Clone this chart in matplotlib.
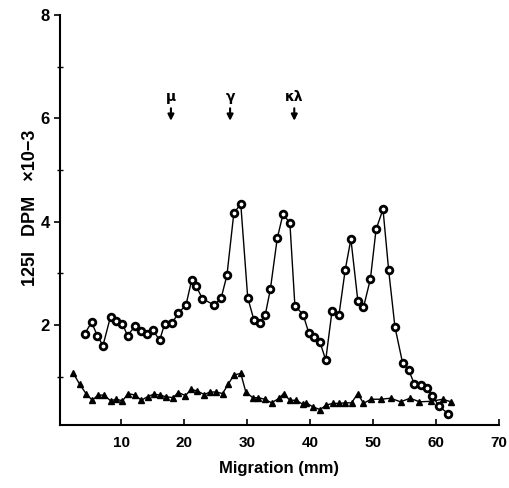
import matplotlib.pyplot as plt
from matplotlib.ticker import MultipleLocator

plt.rcParams['font.family'] = ['Liberation Sans Narrow', 'Liberation Sans', 'DejaVu Sans']
plt.rcParams['font.weight'] = 'bold'

# circles series (migration mm, DPM x 10^-3)
circ_x = [4.2, 5.3, 6.2, 7.1, 8.3, 9.2, 10.2, 11.0, 12.2, 13.2, 14.1, 15.0, 16.1,
          16.9, 18.1, 19.1, 20.3, 21.2, 21.9, 22.9, 24.8, 25.9, 26.8, 27.9, 29.0,
          30.1, 31.1, 32.0, 32.9, 33.7, 34.8, 35.7, 36.8, 37.6, 38.9, 39.8, 40.7,
          41.6, 42.5, 43.5, 44.6, 45.6, 46.5, 47.6, 48.5, 49.6, 50.5, 51.6, 52.5,
          53.5, 54.7, 55.7, 56.6, 57.6, 58.6, 59.4, 60.5, 62.0]
circ_y = [1.83, 2.05, 1.79, 1.60, 2.16, 2.07, 2.02, 1.79, 1.98, 1.89, 1.83, 1.91, 1.70,
          2.02, 2.04, 2.23, 2.39, 2.87, 2.75, 2.51, 2.38, 2.53, 2.96, 4.17, 4.34,
          2.53, 2.09, 2.03, 2.20, 2.69, 3.68, 4.14, 3.98, 2.37, 2.20, 1.85, 1.77,
          1.66, 1.32, 2.27, 2.19, 3.07, 3.66, 2.47, 2.34, 2.89, 3.85, 4.24, 3.06,
          1.96, 1.27, 1.12, 0.85, 0.84, 0.77, 0.63, 0.43, 0.27]

# triangles series
tri_x = [2.4, 3.4, 4.4, 5.4, 6.3, 7.3, 8.3, 9.2, 10.2, 11.1, 12.2, 13.2, 14.2, 15.2,
         16.1, 17.1, 18.2, 19.1, 20.2, 21.1, 22.1, 23.2, 24.1, 25.1, 26.1, 27.0,
         27.9, 29.0, 29.8, 30.9, 31.8, 32.8, 33.9, 35.1, 35.8, 36.8, 37.8, 38.9,
         39.4, 40.5, 41.6, 42.6, 43.7, 44.6, 45.6, 46.6, 47.6, 48.5, 49.7, 51.3,
         52.8, 54.4, 55.9, 57.4, 59.2, 61.1, 62.4]
tri_y = [1.06, 0.85, 0.67, 0.54, 0.64, 0.64, 0.53, 0.56, 0.53, 0.67, 0.64, 0.54, 0.61,
         0.66, 0.64, 0.61, 0.59, 0.69, 0.63, 0.75, 0.72, 0.65, 0.70, 0.70, 0.67, 0.85,
         1.03, 1.06, 0.70, 0.59, 0.59, 0.56, 0.49, 0.58, 0.67, 0.54, 0.54, 0.46,
         0.49, 0.41, 0.36, 0.45, 0.48, 0.48, 0.49, 0.49, 0.67, 0.48, 0.56, 0.56,
         0.58, 0.51, 0.58, 0.51, 0.52, 0.56, 0.51]

# chain markers
chain_labels = ['\u03bc', '\u03b3', '\u03ba\u03bb']
chain_pos = [17.9, 27.3, 37.5]

fig = plt.figure(figsize=(5.10, 4.88), dpi=100)
ax = fig.add_axes([0.118, 0.129, 0.860, 0.840])

ax.plot(circ_x, circ_y, color='black', lw=1, marker='o', ms=4.8,
        mfc='white', mec='black', mew=2)
ax.plot(tri_x, tri_y, color='black', lw=1, marker='^', ms=5, mfc='black', mec='black')

for lab, pos in zip(chain_labels, chain_pos):
    ax.annotate('', xy=(pos, 5.9), xytext=(pos, 6.25),
                arrowprops=dict(arrowstyle='-|>', color='black', lw=1.5, mutation_scale=9))
    ax.text(pos, 6.27, lab, ha='center', va='bottom', fontsize=10, fontweight='bold',
            family=['DejaVu Sans'])

ax.set_xlim(0.3, 70)
ax.set_ylim(0.06, 8)
ax.set_xticks([10, 20, 30, 40, 50, 60, 70])
ax.set_yticks([2, 4, 6, 8])
ax.yaxis.set_minor_locator(MultipleLocator(1))
ax.tick_params(axis='x', direction='in', length=4, width=1.2, labelsize=11, pad=8)
ax.tick_params(axis='y', which='major', direction='out', length=4, width=1.2, labelsize=12)
ax.tick_params(axis='y', which='minor', direction='inout', length=4, width=1)
for s in ['top', 'right']:
    ax.spines[s].set_visible(False)
for s in ['left', 'bottom']:
    ax.spines[s].set_linewidth(1.5)

ax.set_xlabel('Migration (mm)', fontsize=12, fontweight='bold', labelpad=8)
ax.set_ylabel('125I   DPM   \u00d710\u22123', fontsize=13, fontweight='bold')
ax.yaxis.set_label_coords(-0.048, 0.53)

fig.savefig('out.png', dpi=100)
